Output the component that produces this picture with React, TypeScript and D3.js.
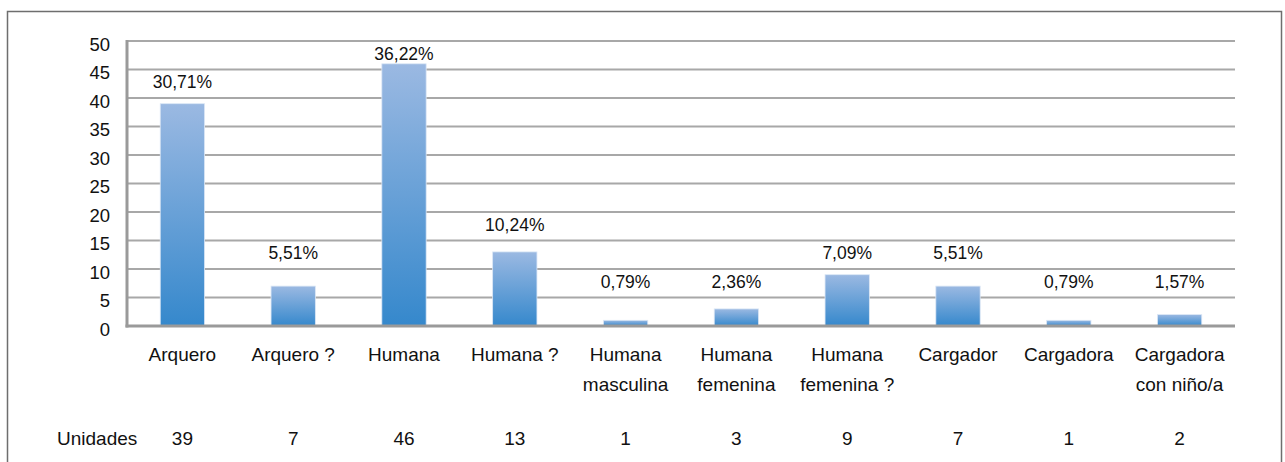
import React from "react";
import * as d3 from "d3";

const categories = [
  "Arquero",
  "Arquero ?",
  "Humana",
  "Humana ?",
  "Humana\nmasculina",
  "Humana\nfemenina",
  "Humana\nfemenina ?",
  "Cargador",
  "Cargadora",
  "Cargadora\ncon niño/a",
];
const unidades = [39, 7, 46, 13, 1, 3, 9, 7, 1, 2];
const percentLabels = ["30,71%", "5,51%", "36,22%", "10,24%", "0,79%", "2,36%", "7,09%", "5,51%", "0,79%", "1,57%"];
const yTicks = [0, 5, 10, 15, 20, 25, 30, 35, 40, 45, 50];
const rowLabel = "Unidades";

const W = 1285;
const H = 462;
const FONT = "'Liberation Sans', Arial, Helvetica, sans-serif";

export default function App() {
  const left = 127;
  const right = 1235;
  const top = 41;
  const bottom = 326;

  const x = d3.scaleBand<string>().domain(categories).range([left, right]).paddingInner(0.6).paddingOuter(0.3);
  const xc = d3.scaleBand<string>().domain(categories).range([left, right]);
  const y = d3.scaleLinear().domain([0, 50]).range([bottom, top]);

  const labelLevel = (v: number) => Math.min(47.5, (Math.floor(v / 5) + 1) * 5 + 2.5);

  return (
    <svg width={W} height={H} style={{ position: "absolute", left: 0, top: 0, background: "#fff" }} fontFamily={FONT}>
      <defs>
        <linearGradient id="barGrad" x1="0" y1="0" x2="0" y2="1">
          <stop offset="0%" stopColor="#9bb9e2" />
          <stop offset="100%" stopColor="#3588cc" />
        </linearGradient>
      </defs>
      <rect x={7.5} y={11.5} width={1274} height={480} fill="#fff" stroke="#6e6e6e" strokeWidth={1.5} />

      {yTicks.filter((t) => t > 0).map((t) => (
        <line key={"g" + t} x1={left} x2={right} y1={y(t)} y2={y(t)} stroke="#a8a8a8" strokeWidth={2} />
      ))}

      {categories.map((c, i) => {
        const v = unidades[i];
        return (
          <rect
            key={"b" + i}
            x={x(c)!}
            y={y(v)}
            width={x.bandwidth()}
            height={y(0) - y(v)}
            fill="url(#barGrad)"
            stroke="#dbe7f5"
            strokeWidth={0.8}
          />
        );
      })}

      <line x1={left} x2={left} y1={top - 1} y2={bottom + 1.5} stroke="#9a9a9a" strokeWidth={3} />
      <line x1={left - 1.5} x2={right} y1={bottom} y2={bottom} stroke="#9a9a9a" strokeWidth={3} />

      {yTicks.map((t) => (
        <text key={"t" + t} x={110} y={y(t) + 3} textAnchor="end" dominantBaseline="central" fontSize={18.5} fill="#111">
          {t}
        </text>
      ))}

      {categories.map((c, i) => (
        <text
          key={"p" + i}
          x={xc(c)! + xc.bandwidth() / 2}
          y={y(labelLevel(unidades[i])) - 1.5}
          textAnchor="middle"
          dominantBaseline="central"
          fontSize={17.5}
          fill="#111"
        >
          {percentLabels[i]}
        </text>
      ))}

      {categories.map((c, i) =>
        c.split("\n").map((line, j) => (
          <text
            key={"c" + i + "-" + j}
            x={xc(c)! + xc.bandwidth() / 2}
            y={bottom + 28 + j * 30}
            textAnchor="middle"
            dominantBaseline="central"
            fontSize={19}
            fill="#111"
          >
            {line}
          </text>
        ))
      )}

      <text x={57} y={bottom + 112} dominantBaseline="central" fontSize={19} fill="#111">
        {rowLabel}
      </text>
      {categories.map((c, i) => (
        <text
          key={"u" + i}
          x={xc(c)! + xc.bandwidth() / 2}
          y={bottom + 112}
          textAnchor="middle"
          dominantBaseline="central"
          fontSize={19}
          fill="#111"
        >
          {unidades[i]}
        </text>
      ))}
    </svg>
  );
}
